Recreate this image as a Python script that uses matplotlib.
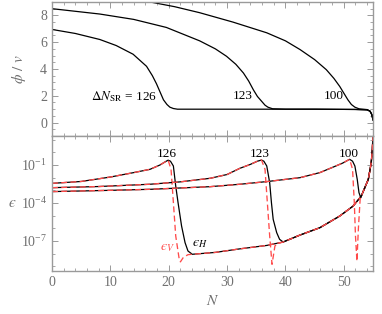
import numpy as np
import matplotlib
matplotlib.use("Agg")
import matplotlib.pyplot as plt
from matplotlib.ticker import FixedLocator, MultipleLocator, NullFormatter

plt.rcParams['font.family'] = ['Liberation Serif', 'DejaVu Serif']
plt.rcParams['mathtext.fontset'] = 'stix'

# ---- top panel: phi / v vs N ----
phi_N_126 = [0, 4, 8.2, 11, 13.9, 16.2, 17.2, 17.9, 18.5, 19.1, 19.7, 20.2, 20.8, 21.5, 25, 35, 45, 52, 54, 54.5, 54.8, 55.0]
phi_126 = [6.95, 6.65, 6.2, 5.75, 5.1, 4.2, 3.5, 2.9, 2.3, 1.7, 1.35, 1.15, 1.05, 1.0, 1.0, 1.0, 1.0, 0.98, 0.95, 0.85, 0.6, 0.2]

phi_N_123 = [0, 8.2, 14, 19.6, 25.3, 28, 29.9, 31.5, 32.8, 33.7, 34.5, 35.2, 35.9, 36.5, 37.0, 37.8, 40, 45, 52, 54, 54.5, 54.8, 55.0]
phi_123 = [8.5, 8.1, 7.7, 7.1, 6.1, 5.5, 4.95, 4.35, 3.7, 3.1, 2.45, 1.95, 1.6, 1.3, 1.15, 1.03, 1.0, 1.0, 0.98, 0.95, 0.85, 0.6, 0.2]

phi_N_100 = [0, 8, 16.2, 21, 25.3, 31, 36.8, 40, 42.5, 45, 47.0, 48.3, 49.3, 50.0, 50.7, 51.3, 51.9, 52.6, 54.0, 54.5, 54.8, 55.0]
phi_100 = [10.3, 9.75, 9.05, 8.65, 8.2, 7.5, 6.7, 6.1, 5.45, 4.7, 3.95, 3.3, 2.7, 2.2, 1.7, 1.35, 1.15, 1.03, 0.97, 0.85, 0.6, 0.2]

# ---- bottom panel: log10 epsilon vs N ----
# common late-time tail
tail_N = [24.0, 28.0, 32.2, 36.8, 39.6, 42.5, 45.9, 49.3, 51.6, 53.0, 54.2, 54.7, 54.9, 55.0]
tail_log = [-8.05, -7.9, -7.62, -7.35, -7.08, -6.53, -5.95, -5.03, -4.24, -3.45, -2.13, -0.82, 0.3, 1.3]

# slow-roll rise (eps_H and eps_V agree here)
rise_N_126 = [0, 5, 10, 14, 16.8, 18.5, 19.5, 19.9]
rise_log_126 = [-2.45, -2.3, -1.95, -1.6, -1.34, -1.0, -0.72, -0.62]
rise_N_123 = [0, 8, 16.8, 22, 27.1, 30, 32.2, 34, 35.2, 35.9]
rise_log_123 = [-2.79, -2.7, -2.52, -2.33, -2.05, -1.75, -1.26, -0.95, -0.7, -0.61]
rise_N_100 = [0, 10, 16.8, 27.1, 32.2, 37, 42.5, 45.9, 48, 49.8, 51.0]
rise_log_100 = [-3.1, -3.0, -2.92, -2.71, -2.52, -2.3, -2.0, -1.6, -1.2, -0.85, -0.55]

# drops after the peak
epsH_drop_N_126 = [20.3, 20.8, 21.2, 21.6, 22.2, 22.8, 23.3, 23.9]
epsH_drop_log_126 = [-0.7, -1.08, -2.66, -3.97, -5.81, -7.13, -7.79, -8.0]
epsV_drop_N_126 = [20.4, 20.8, 21.2, 21.8, 22.0, 22.5, 23.3]
epsV_drop_log_126 = [-1.34, -3.97, -6.6, -8.44, -8.65, -8.3, -8.08]

epsH_drop_N_123 = [36.3, 36.8, 37.3, 37.6, 37.9, 38.5, 39.0]
epsH_drop_log_123 = [-0.7, -1.08, -2.4, -3.97, -5.29, -6.34, -6.87]
epsV_drop_N_123 = [36.5, 36.9, 37.3, 37.7, 38.2, 38.7]
epsV_drop_log_123 = [-1.34, -3.97, -6.6, -8.84, -7.39, -7.2]

epsH_drop_N_100 = [51.5, 51.9, 52.3, 52.6, 52.9]
epsH_drop_log_100 = [-0.7, -1.08, -2.13, -3.18, -3.58]
epsV_drop_N_100 = [51.5, 51.8, 52.0, 52.25, 52.5, 52.8]
epsV_drop_log_100 = [-1.34, -3.97, -6.6, -8.6, -6.0, -3.7]

labels = ['126', '123', '100']

frame = '#9a9a9a'
txtc = '#707070'
red = '#ff4a4a'

fig = plt.figure(figsize=(3.82, 3.14), dpi=100)
ax1 = fig.add_axes([0.1361, 0.5669, 0.8403, 0.4268])
ax2 = fig.add_axes([0.1361, 0.1369, 0.8403, 0.4300])

for N, phi in [(phi_N_126, phi_126), (phi_N_123, phi_123), (phi_N_100, phi_100)]:
    ax1.plot(N, phi, color='black', lw=0.9)

ax1.set_xlim(0, 55)
ax1.set_ylim(-1, 9)
ax1.set_yticks([0, 2, 4, 6, 8])
ax1.yaxis.set_minor_locator(MultipleLocator(0.5))
ax1.xaxis.set_major_locator(MultipleLocator(10))
ax1.xaxis.set_minor_locator(MultipleLocator(2))
ax1.xaxis.set_major_formatter(NullFormatter())
ax1.set_ylabel(r'$\phi\ /\ v$', color=txtc, fontsize=11)
ax1.yaxis.set_label_coords(-0.075, 0.5)

ax1.text(18.0, 1.95, r'$\Delta N_{\rm SR}$ = 126', ha='right', va='center', fontsize=9.5)
ax1.text(32.7, 2.0, '123', ha='center', va='center', fontsize=9.5)
ax1.text(48.3, 2.0, '100', ha='center', va='center', fontsize=9.5)

curves = [
    (rise_N_126, rise_log_126, epsH_drop_N_126, epsH_drop_log_126, epsV_drop_N_126, epsV_drop_log_126),
    (rise_N_123, rise_log_123, epsH_drop_N_123, epsH_drop_log_123, epsV_drop_N_123, epsV_drop_log_123),
    (rise_N_100, rise_log_100, epsH_drop_N_100, epsH_drop_log_100, epsV_drop_N_100, epsV_drop_log_100),
]
tail_N_arr = np.array(tail_N)
tail_log_arr = np.array(tail_log)
for rN, rL, hN, hL, vN, vL in curves:
    keep_h = tail_N_arr > hN[-1]
    NH = np.concatenate([rN, hN, tail_N_arr[keep_h]])
    LH = np.concatenate([rL, hL, tail_log_arr[keep_h]])
    keep_v = tail_N_arr > vN[-1]
    NV = np.concatenate([rN, vN, tail_N_arr[keep_v]])
    LV = np.concatenate([rL, vL, tail_log_arr[keep_v]])
    ax2.plot(NH, 10.0 ** LH, color='black', lw=0.9)
    ax2.plot(NV, 10.0 ** LV, color=red, lw=0.95, ls=(0, (4.5, 2.5)))

ax2.set_yscale('log')
ax2.set_xlim(0, 55)
ax2.set_ylim(10 ** -9.37, 10 ** 1.29)
ax2.yaxis.set_major_locator(FixedLocator([1e-1, 1e-4, 1e-7]))
ax2.yaxis.set_minor_locator(FixedLocator([10.0 ** k for k in range(-9, 2)]))
ax2.yaxis.set_minor_formatter(NullFormatter())
ax2.xaxis.set_major_locator(MultipleLocator(10))
ax2.xaxis.set_minor_locator(MultipleLocator(2))
ax2.set_ylabel('$\u03f5$', color=txtc, fontsize=11, rotation=0, va='center', ha='center')
ax2.yaxis.set_label_coords(-0.125, 0.5)
ax2.set_xlabel(r'$N$', color=txtc, fontsize=11)

peak_N = [19.7, 35.6, 50.9]
for n, lab in zip(peak_N, labels):
    ax2.text(n, 10 ** -0.13, lab, ha='center', va='center', fontsize=9.5)
ax2.text(19.8, 10 ** -7.55, '$\u03f5_V$', color=red, ha='center', va='center', fontsize=10)
ax2.text(25.3, 10 ** -7.16, '$\u03f5_H$', color='black', ha='center', va='center', fontsize=10)

for ax in (ax1, ax2):
    for s in ax.spines.values():
        s.set_color(frame)
        s.set_linewidth(1.0)
    ax.tick_params(which='both', direction='in', top=True, right=True, color=frame,
                   labelcolor=txtc, labelsize=10)
    ax.tick_params(which='major', length=4, width=0.7)
    ax.tick_params(which='minor', length=2, width=0.6)

fig.savefig('out.png', dpi=100)
